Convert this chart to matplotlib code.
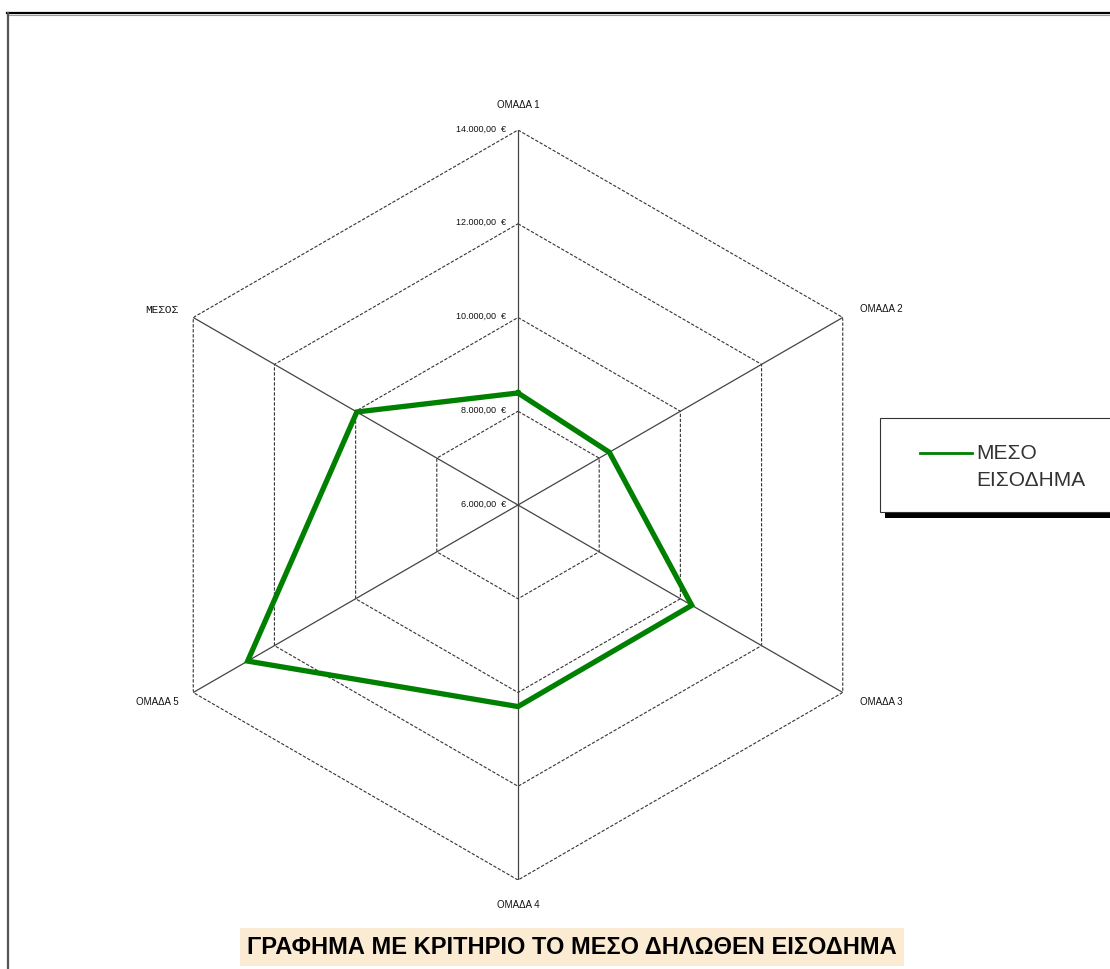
import numpy as np
import matplotlib
matplotlib.use("Agg")
import matplotlib.pyplot as plt
from matplotlib.patches import Rectangle
from matplotlib.lines import Line2D

plt.rcParams['font.family'] = ['Liberation Sans', 'DejaVu Sans']

# income per group (EUR)
groups = ["ΟΜΑΔΑ 1", "ΟΜΑΔΑ 2", "ΟΜΑΔΑ 3", "ΟΜΑΔΑ 4", "ΟΜΑΔΑ 5", "ΜΕΣΟΣ"]
income = [8390, 8250, 10280, 10300, 12660, 9970]
levels = [6000, 8000, 10000, 12000, 14000]
level_labels = ["6.000,00  €", "8.000,00  €", "10.000,00  €", "12.000,00  €", "14.000,00  €"]
series_name = "ΜΕΣΟ\nΕΙΣΟΔΗΜΑ"
title = "ΓΡΑΦΗΜΑ ΜΕ ΚΡΙΤΗΡΙΟ ΤΟ ΜΕΣΟ ΔΗΛΩΘΕΝ ΕΙΣΟΔΗΜΑ"

W, H = 1110, 969
fig = plt.figure(figsize=(W / 100, H / 100), dpi=100)
fig.patch.set_facecolor("white")

cx, cy, R = 518, 505, 375
ax = fig.add_axes([(cx - R) / W, (H - cy - R) / H, 2 * R / W, 2 * R / H], projection="polar")
ax.set_theta_offset(np.pi / 2)
ax.set_theta_direction(-1)
ax.set_ylim(levels[0], levels[-1])
ax.grid(False)
ax.spines["polar"].set_visible(False)
ax.set_xticks([])
ax.set_yticks([])
ax.patch.set_alpha(0)

n = len(groups)
angles = np.arange(n) * 2 * np.pi / n
closed = np.append(angles, angles[0])

# hexagonal rings
for lv in levels[1:]:
    ax.plot(closed, [lv] * (n + 1), color="#333333", lw=0.8, ls=(0, (3, 1.5)), zorder=1)

# spokes
for a in angles:
    ax.plot([a, a], [levels[0], levels[-1]], color="#444444", lw=0.9, zorder=1)

# value labels along the top spoke
for lv, lab in zip(levels, level_labels):
    ax.annotate(lab, xy=(0, lv), xytext=(-12, 1), textcoords="offset pixels",
                ha="right", va="center", fontsize=6.5, color="#111111")

# category labels
offsets = [(0, 25, "center"), (17, 8, "left"), (17, -10, "left"),
           (0, -25, "center"), (-15, -9, "right"), (-15, 7, "right")]
for a, name, (dx, dy, ha) in zip(angles, groups, offsets):
    if name == "ΜΕΣΟΣ":
        fam, fs = ["Liberation Mono"], 8
    else:
        fam, fs = ["Liberation Sans"], 7
    ax.annotate(name, xy=(a, levels[-1]), xytext=(dx, dy), textcoords="offset pixels",
                ha=ha, va="center", fontsize=fs, color="#111111", family=fam)

# data polygon
vals = income + [income[0]]
ax.plot(closed, vals, color="#008000", lw=3.8, solid_joinstyle="miter", zorder=3)

# legend box with shadow
bx0, by0, bx1, by1 = 880, 418, 1116, 512
fig.patches.append(Rectangle(((bx0 + 5) / W, (H - by1 - 6) / H), (bx1 - bx0) / W, (by1 - by0) / H,
                             transform=fig.transFigure, facecolor="black", edgecolor="none", zorder=0))
fig.patches.append(Rectangle((bx0 / W, (H - by1) / H), (bx1 - bx0) / W, (by1 - by0) / H,
                             transform=fig.transFigure, facecolor="white", edgecolor="#333333",
                             lw=0.8, zorder=0.5))
fig.lines.append(Line2D([920 / W, 972 / W], [(H - 453) / H] * 2, transform=fig.transFigure,
                        color="#008000", lw=2))
fig.text(976 / W, (H - 444) / H, series_name, ha="left", va="top", fontsize=15,
         color="#333333", linespacing=1.5)

# title on beige band
fig.text(572 / W, (H - 947) / H, title, ha="center", va="center", fontsize=17,
         fontweight="bold", color="black",
         bbox=dict(boxstyle="square,pad=0.3", facecolor="#FBEBD2", edgecolor="none"))

# page frame
fig.lines.append(Line2D([7 / W, 1], [(H - 13) / H] * 2, transform=fig.transFigure,
                        color="black", lw=1.6))
fig.lines.append(Line2D([7 / W, 1], [(H - 15) / H] * 2, transform=fig.transFigure,
                        color="#999999", lw=0.8))
fig.lines.append(Line2D([8 / W] * 2, [0, (H - 13) / H], transform=fig.transFigure,
                        color="#555555", lw=1.6))

fig.savefig("out.png", dpi=100)
